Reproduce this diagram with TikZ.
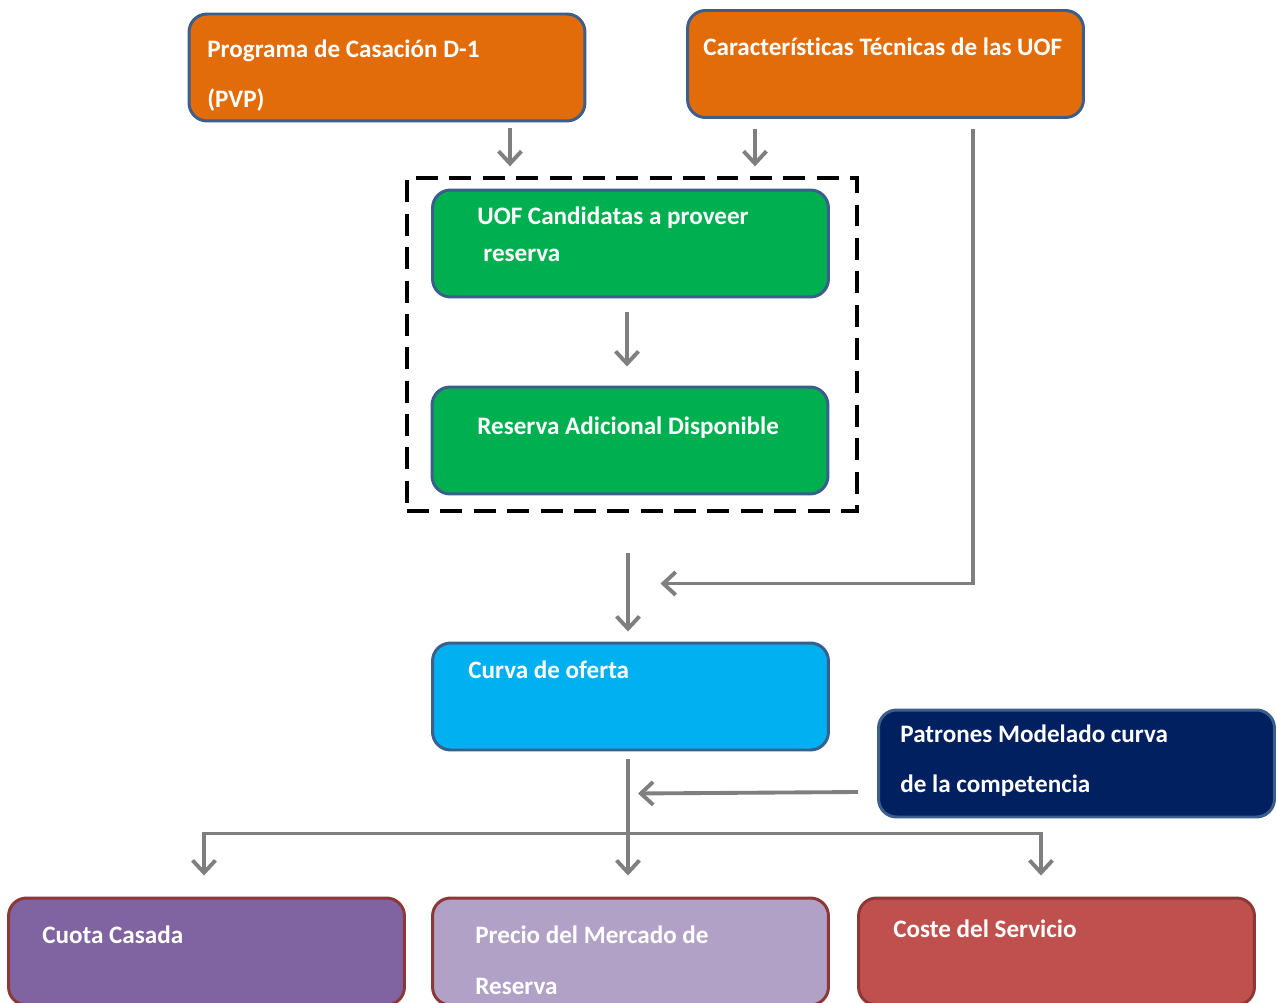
\documentclass[tikz,border=0pt]{standalone}
\usepackage{fontspec}
\setmainfont{Carlito}[Ligatures=CommonOff]
\usetikzlibrary{arrows.meta,calc}
\definecolor{naranja}{HTML}{E36C0A}
\definecolor{verde}{HTML}{00B050}
\definecolor{celeste}{HTML}{00B0F0}
\definecolor{marino}{HTML}{002060}
\definecolor{morado}{HTML}{8064A2}
\definecolor{lila}{HTML}{B2A1C7}
\definecolor{rojo}{HTML}{C0504D}
\definecolor{bordeazul}{HTML}{3B5E8C}
\definecolor{borderojo}{HTML}{8C3836}
\definecolor{gris}{HTML}{7F7F7F}
\tikzset{
  caja/.style={draw=bordeazul, line width=1.7pt, rounded corners=0.36cm,
    minimum width=7.92cm, minimum height=2.14cm, inner sep=0pt},
  cajaroja/.style={caja, draw=borderojo},
  texto/.style={anchor=base west, inner sep=0pt, text=white,
    font=\fontsize{14.3}{17}\selectfont\bfseries},
  flecha/.style={draw=gris, line width=2.2pt,
    -{Straight Barb[length=7pt,width=13pt]}},
}
\begin{document}
\begin{tikzpicture}[x=0.02cm, y=-0.02cm]
                        \fill[white] (0,0) rectangle (1277,1003);%
                        \clip (0,0) rectangle (1277,1003);%

                        % Drawing box Programa de Casacion
                        \node [caja, fill=naranja] (prog) at (387,67.5) {};%
                        \node [texto] (prog-a) at (207,58) {Programa de Casación D-1};%
                        \node [texto] (prog-b) at (207,108) {(PVP)};%

                        % Drawing box Caracteristicas Tecnicas
                        \node [caja, fill=naranja] (caract) at (885.5,64) {};%
                        \node [texto] (caract-a) at (703,56) {Características Técnicas de las UOF};%

                        % Drawing dashed frame
                        \node [draw=black, line width=1.9pt, dash pattern=on 12.5pt off 6.5pt,
                          minimum width=9cm, minimum height=6.66cm, inner sep=0pt] (marco) at (632,344.5) {};%

                        % Drawing box UOF Candidatas
                        \node [caja, fill=verde] (uof) at (630.5,243.5) {};%
                        \node [texto] (uof-a) at (477,225) {UOF Candidatas a proveer};%
                        \node [texto] (uof-b) at (483,262) {reserva};%

                        % Drawing box Reserva Adicional
                        \node [caja, fill=verde] (resad) at (630,440.5) {};%
                        \node [texto] (resad-a) at (477,434) {Reserva Adicional Disponible};%

                        % Drawing box Curva de oferta
                        \node [caja, fill=celeste] (curva) at (630.5,696.5) {};%
                        \node [texto] (curva-a) at (468,678) {Curva de oferta};%

                        % Drawing box Patrones
                        \node [caja, fill=marino] (patron) at (1076.5,763.5) {};%
                        \node [texto] (patron-a) at (900,742) {Patrones Modelado curva};%
                        \node [texto] (patron-b) at (900,792) {de la competencia};%

                        % Drawing bottom boxes
                        \node [cajaroja, fill=morado] (cuota) at (206.5,951.5) {};%
                        \node [texto] (cuota-a) at (42,943) {Cuota Casada};%
                        \node [cajaroja, fill=lila] (precio) at (630.5,951.5) {};%
                        \node [texto] (precio-a) at (475,943) {Precio del Mercado de};%
                        \node [texto] (precio-b) at (475,994) {Reserva};%
                        \node [cajaroja, fill=rojo] (coste) at (1056.5,951.5) {};%
                        \node [texto] (coste-a) at (893,937) {Coste del Servicio};%

                        % Drawing arrows
                        \draw [flecha] ($(prog.south)+(123,6)$) -- ($(marco.north)+(-122,-10)$);%
                        \draw [flecha] ($(caract.south)+(-130.5,10)$) -- ($(marco.north)+(123,-10)$);%
                        \draw [flecha] ($(uof.south)+(-3.5,14)$) -- ($(resad.north)+(-3,-19)$);%
                        \draw [flecha] ($(caract.south)+(87.5,10)$) |- ($(curva.north)+(30,-58)$);%
                        \draw [flecha] ($(marco.south)+(-4,40)$) -- ($(curva.north)+(-2.5,-10)$);%
                        \draw [flecha] ($(curva.south)+(-2.5,8)$) -- ($(precio.north)+(-2.5,-21)$);%
                        \draw [flecha] ($(patron.west)+(-19,28.5)$) -- ($(curva.south)+(7.5,42)$);%
                        \coordinate (ramal) at ($(curva.south)+(-2.5,82)$);%
                        \draw [flecha] (ramal) -| ($(cuota.north)+(-2.5,-21)$);%
                        \draw [flecha] (ramal) -| ($(coste.north)+(-15.5,-21)$);%
\end{tikzpicture}
\end{document}
